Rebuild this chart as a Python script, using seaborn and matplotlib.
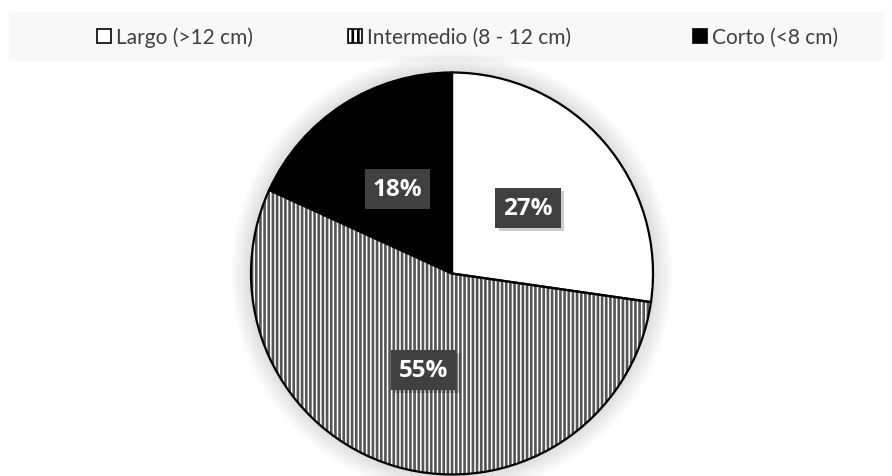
import matplotlib
matplotlib.use("Agg")
import matplotlib.pyplot as plt
import matplotlib.patheffects as pe
from matplotlib.patches import Patch, Rectangle, Circle
import seaborn as sns
import numpy as np

# ---- data ----
categories = ["Largo (>12 cm)", "Intermedio (8 - 12 cm)", "Corto (<8 cm)"]
counts = [3, 6, 2]
face_colors = ["white", "white", "black"]
hatches = ["", "||||", ""]

sns.set_theme(style="white")
plt.rcParams["font.family"] = ["Lato", "DejaVu Sans"]
plt.rcParams["hatch.linewidth"] = 1.9

fig = plt.figure(figsize=(8.92, 4.77), dpi=100)
fig.patch.set_facecolor("white")

# legend band
fig.add_artist(Rectangle((9 / 892, 1 - 62 / 477), 875 / 892, 49 / 477,
                         transform=fig.transFigure, facecolor="#f8f8f8",
                         edgecolor="none", zorder=0))

# pie axes
cx, cy, r = 452 / 892, 1 - 274.5 / 477, 201
ax = fig.add_axes([cx - r / 892, cy - r / 477, 2 * r / 892, 2 * r / 477])
ax.set_facecolor("none")

# soft glow around pie
for rr in np.linspace(1.10, 1.0, 12):
    ax.add_patch(Circle((0, 0), rr, facecolor="#000000", alpha=0.010,
                        edgecolor="none", clip_on=False, zorder=0))

# fill + hatch layer
wedges, _ = ax.pie(counts, startangle=90, counterclock=False,
                   colors=face_colors,
                   wedgeprops=dict(edgecolor="#555555", linewidth=0, clip_on=False))
for w, h in zip(wedges, hatches):
    if h:
        w.set_hatch(h)
    w.set_zorder(1)

# outline layer + labels
wedges2, _, autotexts = ax.pie(counts, startangle=90, counterclock=False,
                               autopct="%1.0f%%", pctdistance=0.5,
                               wedgeprops=dict(fill=False, edgecolor="black",
                                               linewidth=1.6, clip_on=False),
                               textprops=dict(color="white", fontweight="bold",
                                              fontsize=17.5,
                                              family=["Open Sans", "DejaVu Sans"]))
for w in wedges2:
    w.set_zorder(2)
for t in autotexts:
    t.set_zorder(5)
    t.set_bbox(dict(boxstyle="square,pad=0.33", facecolor="#404040",
                    edgecolor="none"))
    t.get_bbox_patch().set_path_effects(
        [pe.withSimplePatchShadow(offset=(2.5, -2.5), shadow_rgbFace="black", alpha=0.2),
         pe.Normal()])

ax.set_xlim(-1, 1)
ax.set_ylim(-1, 1)
ax.set_aspect("equal")
ax.axis("off")

# legend entries
handles = [Patch(facecolor=fc, edgecolor="black", hatch=h, linewidth=1.2)
           for fc, h in zip(["white", "white", "black"], ["", "|||", ""])]
xs = [97 / 892, 348 / 892, 693 / 892]
ly = 1 - 38 / 477
for hdl, lab, x in zip(handles, categories, xs):
    leg = fig.legend([hdl], [lab], loc="center left", bbox_to_anchor=(x, ly),
                     frameon=False, fontsize=15, handlelength=0.68,
                     handleheight=0.68, handletextpad=0.25, borderpad=0,
                     borderaxespad=0)
    for txt in leg.get_texts():
        txt.set_color("#404040")

fig.savefig("out.png", dpi=100, facecolor="white")
